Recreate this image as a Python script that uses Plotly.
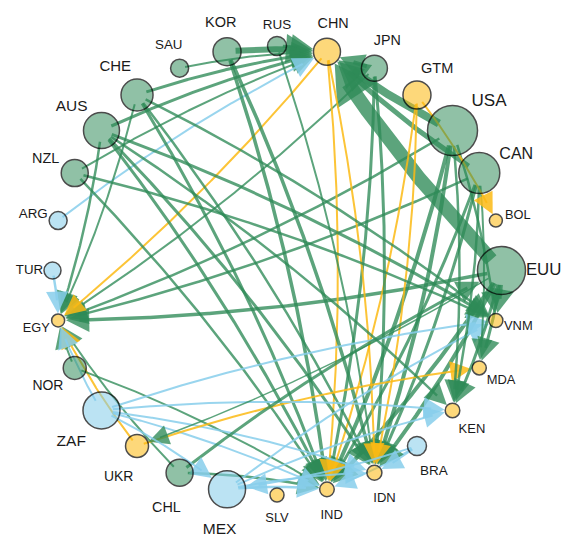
import numpy as np
import plotly.graph_objects as go

# ---------------- data ----------------
nodes = ["EUU", "BOL", "CAN", "USA", "GTM", "JPN", "CHN", "RUS", "KOR", "SAU",
         "CHE", "AUS", "NZL", "ARG", "TUR", "EGY", "NOR", "ZAF", "UKR", "CHL",
         "MEX", "SLV", "IND", "IDN", "BRA", "KEN", "MDA", "VNM"]
node_group = ["g", "y", "g", "g", "y", "g", "y", "g", "g", "g",
              "g", "g", "g", "b", "b", "y", "g", "b", "y", "g",
              "b", "y", "y", "y", "b", "y", "y", "y"]
node_value = [24, 6.5, 20.5, 25, 14, 13, 13.5, 9.5, 14, 9,
              16, 18, 13.5, 9, 8.5, 6.5, 11.5, 18.5, 11.5, 13.5,
              18.5, 7, 7.3, 7.5, 9.5, 7.3, 7, 7]

edge_source = ["EUU", "USA", "CAN", "JPN", "KOR", "RUS", "SAU", "CHE", "AUS", "NZL", "ARG",
               "EUU", "USA", "CAN", "JPN", "CHE", "AUS", "CHL", "NOR", "CHN", "UKR", "ZAF", "TUR",
               "EUU", "USA", "CAN", "JPN", "KOR", "CHE", "AUS", "NZL", "NOR", "CHL", "CHN", "GTM", "MEX", "ZAF", "BRA",
               "EUU", "USA", "CAN", "JPN", "KOR", "RUS", "CHE", "AUS", "CHN", "GTM", "MEX", "ZAF", "BRA",
               "EUU", "USA", "CHE", "AUS", "NZL", "ZAF", "MEX",
               "EUU", "CAN", "UKR",
               "EUU", "USA", "CAN", "AUS", "ZAF", "MEX",
               "GTM", "EUU", "CHL", "ZAF", "BRA"]
edge_target = ["CHN", "CHN", "CHN", "CHN", "CHN", "CHN", "CHN", "CHN", "CHN", "CHN", "CHN",
               "EGY", "EGY", "EGY", "EGY", "EGY", "EGY", "EGY", "EGY", "EGY", "EGY", "EGY", "EGY",
               "IND", "IND", "IND", "IND", "IND", "IND", "IND", "IND", "IND", "IND", "IND", "IND", "IND", "IND", "IND",
               "IDN", "IDN", "IDN", "IDN", "IDN", "IDN", "IDN", "IDN", "IDN", "IDN", "IDN", "IDN", "IDN",
               "VNM", "VNM", "VNM", "VNM", "VNM", "VNM", "VNM",
               "MDA", "MDA", "MDA",
               "KEN", "KEN", "KEN", "KEN", "KEN", "KEN",
               "BOL", "UKR", "EUU", "MEX", "MEX"]
edge_weight = [14, 8, 5, 4, 6, 3, 2, 3, 3, 2, 2,
               3.5, 2.5, 2.5, 2, 2, 2.5, 2, 2, 2, 2, 2, 2.5,
               4, 4, 3, 3, 3.5, 3, 3, 2.5, 2, 2.5, 2, 2, 2.5, 2, 2,
               4, 4, 3, 3, 3.5, 2, 2.5, 3, 2, 2, 2, 2, 2,
               4, 2.5, 2.5, 3, 2.5, 2, 2,
               3, 2, 2,
               3, 2.5, 2.5, 2.5, 2, 2,
               2, 1.5, 3, 2, 2]

# ---------------- styles ----------------
OFF = 8  # default page body margin
W, H = 570 - OFF, 538 - OFF
CX, CY, RAD = 277, 270.5, 224.5
node_fill = {"g": "rgba(46,139,87,0.75)", "y": "rgba(252,186,20,0.8)", "b": "rgba(135,206,235,0.8)"}
edge_col = {"g": "rgba(46,139,87,0.78)", "y": "rgba(252,186,20,0.85)", "b": "rgba(135,206,235,0.85)"}
CURV = 0.05

n = len(nodes)
ang = np.arange(n) * 2 * np.pi / n
pos = {nm: np.array([CX + RAD * np.cos(a), CY - RAD * np.sin(a)]) for nm, a in zip(nodes, ang)}
rad = dict(zip(nodes, node_value))
grp = dict(zip(nodes, node_group))

fig = go.Figure()

def bez(p0, c, p2, t):
    t = np.asarray(t)[:, None]
    return (1 - t) ** 2 * p0 + 2 * (1 - t) * t * c + t ** 2 * p2

for s, t_, w in zip(edge_source, edge_target, edge_weight):
    p0, p2 = pos[s], pos[t_]
    d = p2 - p0
    c = (p0 + p2) / 2 + CURV * np.array([d[1], -d[0]])
    ts = np.linspace(0, 1, 400)
    pts = bez(p0, c, p2, ts)
    dist_t = np.linalg.norm(pts - p2, axis=1)
    dist_s = np.linalg.norm(pts - p0, axis=1)
    rt = rad[t_] + 0.5
    L = 18 + 1.5 * w
    HW = 8.5 + 1.0 * w
    idx_tip = np.where(dist_t >= rt)[0][-1]
    tt = ts[idx_tip]
    tip = pts[idx_tip]
    tan = 2 * (1 - tt) * (c - p0) + 2 * tt * (p2 - c)
    u = tan / np.linalg.norm(tan)
    nrm = np.array([-u[1], u[0]])
    base = tip - u * L
    keep = (dist_s >= rad[s] * 0.6) & (dist_t >= rt + L * 0.6)
    lp = pts[keep]
    col = edge_col[grp[s]]
    fig.add_trace(go.Scatter(x=lp[:, 0], y=lp[:, 1], mode="lines",
                             line=dict(color=col, width=w), hoverinfo="skip",
                             showlegend=False))
    a1 = base + nrm * HW
    a2 = base - nrm * HW
    fig.add_trace(go.Scatter(x=[tip[0], a1[0], a2[0], tip[0]],
                             y=[tip[1], a1[1], a2[1], tip[1]],
                             mode="lines", fill="toself", fillcolor=col,
                             line=dict(width=0, color=col), hoverinfo="skip",
                             showlegend=False))

# nodes
fig.add_trace(go.Scatter(
    x=[pos[nm][0] for nm in nodes], y=[pos[nm][1] for nm in nodes],
    mode="markers",
    marker=dict(size=[2 * r for r in node_value],
                color=[node_fill[g] for g in node_group],
                line=dict(color="black", width=1.5)),
    text=nodes, hoverinfo="text", showlegend=False))

# labels
lx, ly, fsz = [], [], []
for nm, a in zip(nodes, ang):
    r = rad[nm]
    fs = 11.3 + 0.23 * r
    cx_, sy_ = np.cos(a), np.sin(a)
    hw = 0.34 * fs * len(nm)
    hh = 0.38 * fs
    gap = 1 + 5 * abs(sy_)
    dist = r + gap + hw * abs(cx_) + hh * abs(sy_)
    extra = 6 * max(0, -sy_) + 8 * max(0, -cx_) * max(0, -sy_)
    lx.append(pos[nm][0] + dist * cx_)
    ly.append(pos[nm][1] - dist * sy_ + extra)
    fsz.append(fs)

fig.add_trace(go.Scatter(x=lx, y=ly, mode="text", text=nodes,
                         textposition="middle center",
                         textfont=dict(size=fsz, color="#1a1a1a",
                                       family="Liberation Sans, Arial, sans-serif"),
                         hoverinfo="skip", showlegend=False))

fig.update_layout(width=W, height=H, margin=dict(l=0, r=0, t=0, b=0),
                  paper_bgcolor="white", plot_bgcolor="white")
fig.update_xaxes(range=[OFF, OFF + W], visible=False)
fig.update_yaxes(range=[OFF + H, OFF], visible=False)
fig.write_html("out.html")
